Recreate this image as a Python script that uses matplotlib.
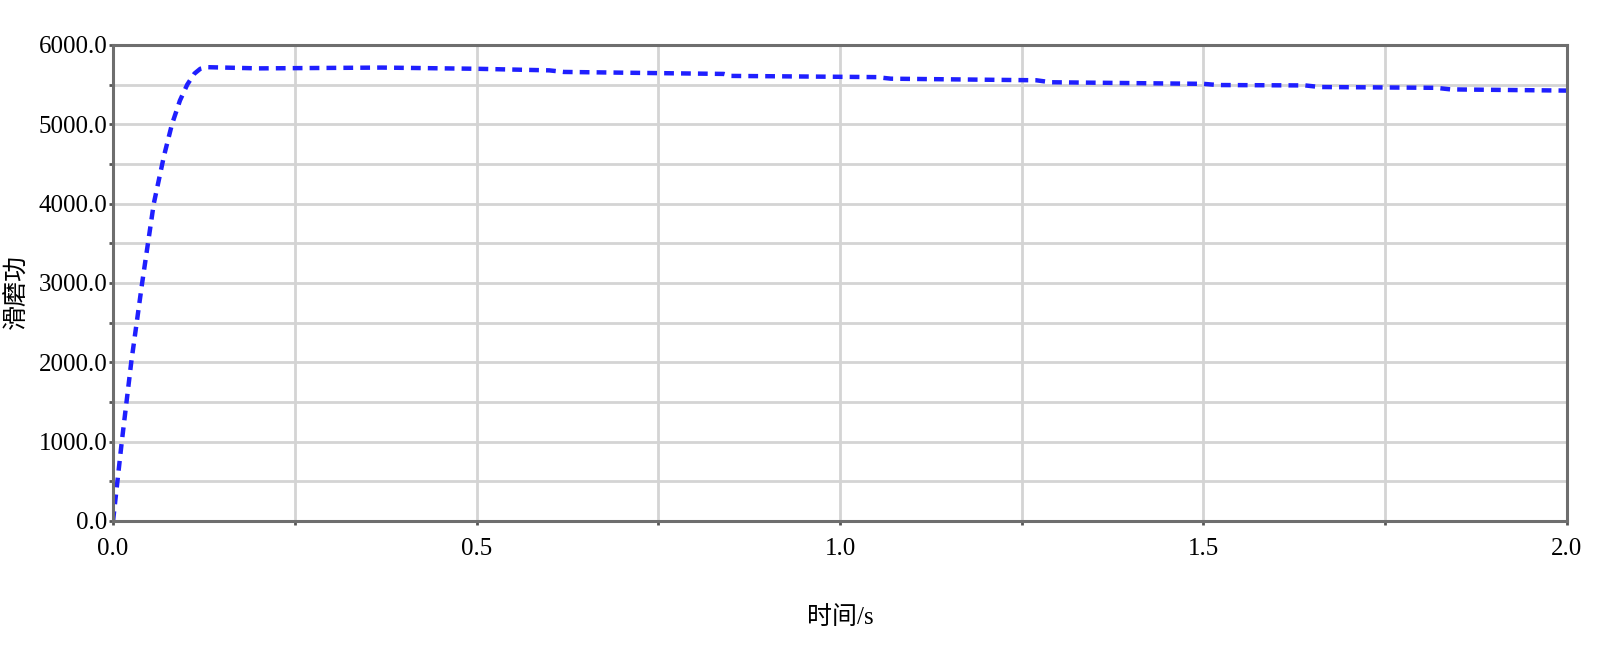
import numpy as np
import matplotlib.pyplot as plt
from matplotlib.ticker import MultipleLocator, FormatStrFormatter

# Values
time_s = [0.0, 0.012, 0.025, 0.040, 0.056, 0.070, 0.081, 0.092, 0.102, 0.112, 0.120,
          0.13, 0.20, 0.37, 0.50, 0.60, 0.62, 0.84, 0.85, 1.05, 1.07, 1.27, 1.29,
          1.50, 1.52, 1.64, 1.66, 1.82, 1.84, 2.0]
work = [0.0, 1000, 2000, 3000, 4000, 4600, 5000, 5300, 5500, 5640, 5700,
        5720, 5705, 5715, 5700, 5680, 5660, 5635, 5610, 5595, 5575, 5555, 5530,
        5510, 5495, 5490, 5470, 5460, 5440, 5425]

x_label = "时间/s"
y_label = "滑磨功"

fonts = ['Liberation Serif', 'Noto Sans CJK SC']
plt.rcParams['font.family'] = fonts

fig = plt.figure(figsize=(15.97, 6.48), dpi=100)
ax = fig.add_axes([0.0708, 0.196, 0.9104, 0.7346])

ax.plot(time_s, work, color='#1f1fff', lw=3.2, linestyle=(0, (2.2, 1.6)))

ax.set_xlim(0, 2.0)
ax.set_ylim(0, 6000)
ax.xaxis.set_major_locator(MultipleLocator(0.5))
ax.xaxis.set_minor_locator(MultipleLocator(0.25))
ax.yaxis.set_major_locator(MultipleLocator(1000))
ax.yaxis.set_minor_locator(MultipleLocator(500))
ax.xaxis.set_major_formatter(FormatStrFormatter('%.1f'))
ax.yaxis.set_major_formatter(FormatStrFormatter('%.1f'))

ax.grid(True, which='both', color='#d4d4d4', lw=2)
ax.set_axisbelow(True)
for s in ax.spines.values():
    s.set_color('#6e6e6e')
    s.set_linewidth(2.2)

ax.tick_params(which='both', length=3, width=2, color='#555555', labelsize=18)
ax.tick_params(axis='x', pad=9)
ax.tick_params(axis='y', pad=1)

ax.set_xlabel(x_label, fontsize=18)
ax.xaxis.set_label_coords(0.5, -0.178)
ax.set_ylabel(y_label, fontsize=18)
ax.yaxis.set_label_coords(-0.058, 0.483)

fig.savefig("out.png", dpi=100)
